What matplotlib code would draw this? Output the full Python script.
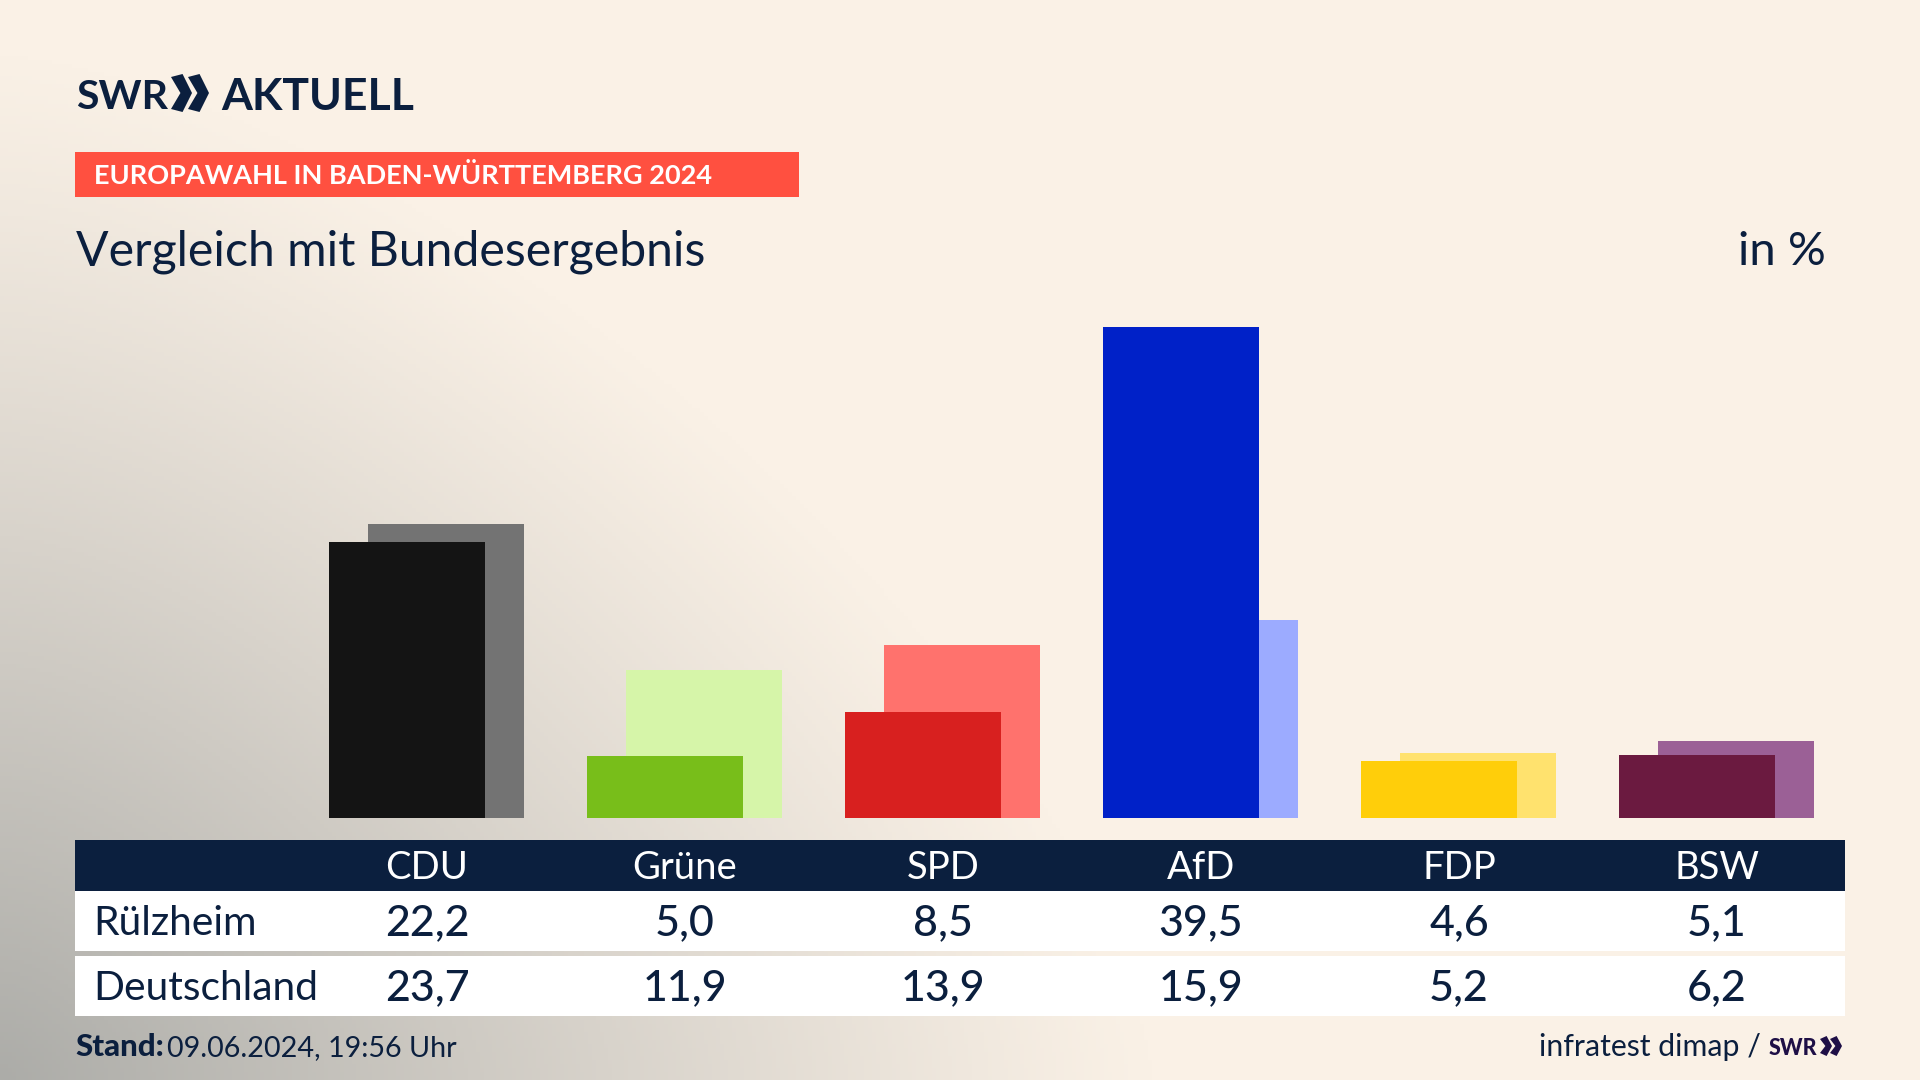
# Imports
import numpy as np
import matplotlib.pyplot as plt
from matplotlib.patches import Rectangle, Polygon

# Data
parties = ['CDU', 'Grüne', 'SPD', 'AfD', 'FDP', 'BSW']
values_ruelzheim = [22.2, 5.0, 8.5, 39.5, 4.6, 5.1]
values_deutschland = [23.7, 11.9, 13.9, 15.9, 5.2, 6.2]
row_labels = ['Rülzheim', 'Deutschland']

# Colours
colors_dark = ['#141414', '#78BE1A', '#D8201F', '#0021C8', '#FFCE0A', '#6B1A40']
colors_light = ['#737373', '#D6F5A9', '#FF726D', '#9CABFF', '#FFE26E', '#9B6096']
navy = '#0B1F3E'
red = '#FF5040'

plt.rcParams['font.family'] = ['Lato', 'Open Sans', 'DejaVu Sans']

W, H = 1920, 1080
fig = plt.figure(figsize=(19.2, 10.8), dpi=100)

# Background: warm beige with a grey glow from the bottom left corner
bg = fig.add_axes([0, 0, 1, 1], zorder=0)
xx, yy = np.meshgrid(np.linspace(0, 1, 480), np.linspace(0, 1, 270))
dist = ((xx / 0.6) ** 1.5 + ((1 - yy) / 0.95) ** 1.5) ** (1 / 1.5)
mix = np.clip(1 - dist, 0, 1) ** 1.1
base = np.array([250, 241, 230]) / 255
grey = np.array([172, 172, 168]) / 255
img = base[None, None, :] * (1 - mix[..., None]) + grey[None, None, :] * mix[..., None]
bg.imshow(img, extent=[0, W, H, 0], aspect='auto')
bg.axis('off')

# Bars, one unit on x is one table column (258 px), one % is about 12.4 px
ax = fig.add_axes([0, (H - 818) / H, 1, 497 / H], zorder=1)
ax.patch.set_alpha(0)
x = np.arange(len(parties))
ax.bar(x + 0.0745, values_deutschland, width=0.603, color=colors_light)
ax.bar(x - 0.0775, values_ruelzheim, width=0.603, color=colors_dark)
ax.set_xlim(-427 / 258, (W - 427) / 258)
ax.set_ylim(0, 40)
ax.axis('off')

# Overlay in pixel coordinates for the table and the texts
ov = fig.add_axes([0, 0, 1, 1], zorder=2)
ov.set_xlim(0, W)
ov.set_ylim(H, 0)
ov.axis('off')
ov.patch.set_alpha(0)


def chevrons(x0, y0, y1, w, gap, color):
    # The two arrows of the SWR logo
    mid = (y0 + y1) / 2
    step = w * 0.55
    for i in range(2):
        left = x0 + i * gap
        ov.add_patch(Polygon([(left, y0 + 3), (left + step, y0), (left + w, mid),
                              (left + step, y1), (left, y1 - 3), (left + w - step, mid)],
                             closed=True, color=color, lw=0))


# Header
ov.text(76, 109, 'SWR', color=navy, fontsize=29.5, fontweight='bold', va='baseline')
chevrons(171, 74, 112, 21, 17, navy)
ov.text(221, 110, 'AKTUELL', color=navy, fontsize=32, fontweight='bold', va='baseline')

ov.add_patch(Rectangle((75, 152), 724, 45, color=red, lw=0))
ov.text(94, 184, 'EUROPAWAHL IN BADEN-WÜRTTEMBERG 2024', color='white', fontsize=19.5,
        fontweight='bold', va='baseline')
ov.text(76, 265, 'Vergleich mit Bundesergebnis', color=navy, fontsize=34.7, va='baseline')
ov.text(1826, 265, 'in %', color=navy, fontsize=34, ha='right', va='baseline')

# Table
ov.add_patch(Rectangle((75, 840), 1770, 51, color=navy, lw=0))
ov.add_patch(Rectangle((75, 891), 1770, 60, color='white', lw=0))
ov.add_patch(Rectangle((75, 956), 1770, 60, color='white', lw=0))
ov.text(93, 935, row_labels[0], color=navy, fontsize=29.3, va='baseline')
ov.text(93, 1000, row_labels[1], color=navy, fontsize=29.3, va='baseline')
for i, party in enumerate(parties):
    cx = 427 + 258 * i
    ov.text(cx, 879, party, color='white', fontsize=27.5, ha='center', va='baseline')
    ov.text(cx, 935, f'{values_ruelzheim[i]:.1f}'.replace('.', ','), color=navy,
            fontsize=31, fontweight='medium', ha='center', va='baseline')
    ov.text(cx, 1000, f'{values_deutschland[i]:.1f}'.replace('.', ','), color=navy,
            fontsize=31, fontweight='medium', ha='center', va='baseline')

# Footer
ov.text(75, 1056, 'Stand:', color=navy, fontsize=22.5, fontweight='black', va='baseline')
ov.text(167, 1056, '09.06.2024, 19:56 Uhr', color=navy, fontsize=20.7, va='baseline')
ov.text(1761, 1056, 'infratest dimap /', color=navy, fontsize=21.8, ha='right', va='baseline')
ov.text(1769, 1055, 'SWR', color='#1E0F46', fontsize=15.5, fontweight='black', va='baseline')
chevrons(1820, 1036, 1056, 12, 10, '#1E0F46')

fig.savefig('out.png', dpi=100)
